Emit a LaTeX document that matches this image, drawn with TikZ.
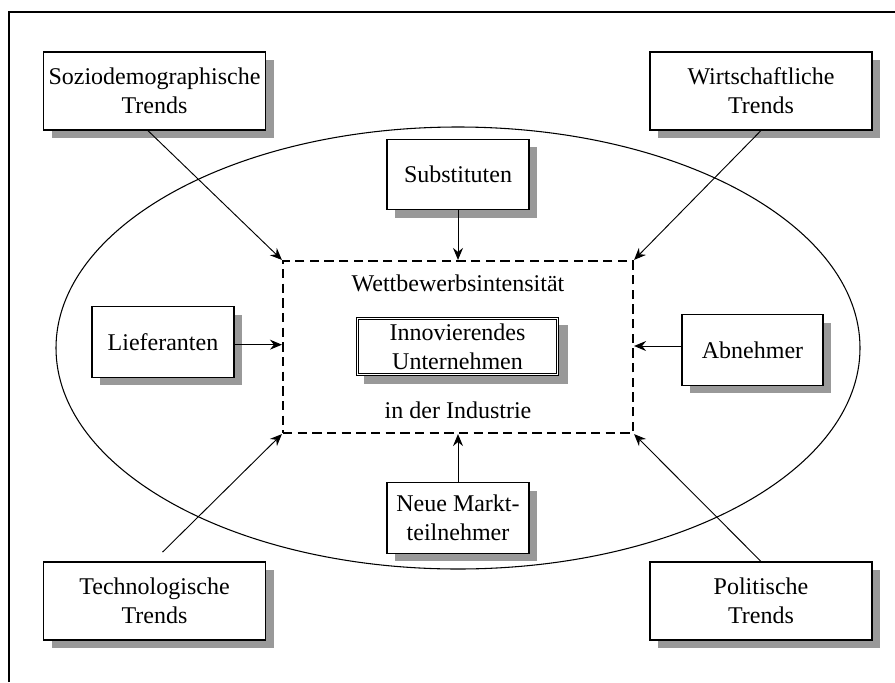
\documentclass[tikz,border=0pt]{standalone}
\usepackage{fontspec}
\setmainfont{Liberation Serif}
\usetikzlibrary{shadows,arrows.meta}
\definecolor{shade}{HTML}{999999}
\begin{document}
\begin{tikzpicture}[x=0.75pt,y=-0.75pt,
  every node/.style={font=\fontsize{18}{21.6}\selectfont, align=center, inner sep=0pt},
  factor/.style={draw=black, line width=0.8pt, fill=white,
    drop shadow={shadow xshift=6pt, shadow yshift=-6pt, fill=shade, opacity=1}},
  trendbox/.style={factor, minimum width=166.5pt, minimum height=58.5pt},
  forcebox/.style={factor, minimum width=106.5pt, minimum height=53pt},
  link/.style={line width=0.7pt, -{Stealth[length=9pt,width=7.5pt,inset=3pt]}}
]
\useasboundingbox (0,0) rectangle (895,682);

% frame
\draw[line width=0.8pt] (9,682) -- (9,12) -- (895,12);

% market ellipse
\draw[line width=0.8pt] (458,348) ellipse [x radius=402, y radius=221];

% industry (dashed) and the company in its centre
\node[draw=black, dashed, line width=1.6pt, dash pattern=on 7pt off 4pt,
      minimum width=262.5pt, minimum height=129pt] (ind) at (458,347) {};
\node at (458,283) {Wettbewerbsintensität};
\node at (458,410) {in der Industrie};
\node[factor, line width=0.7pt,
      drop shadow={shadow xshift=6.5pt, shadow yshift=-6pt, fill=shade, opacity=1},
      minimum width=152pt, minimum height=44pt] (firm) at (457.5,346.5)
      {Innovierendes\\Unternehmen};
\draw[line width=0.7pt] ([xshift=2.2pt,yshift=-2.2pt]firm.north west)
      rectangle ([xshift=-2.2pt,yshift=2.2pt]firm.south east);

% five forces
\node[forcebox] (sub)  at (458,174.5) {Substituten};
\node[forcebox] (neu)  at (458,518)   {Neue Markt-\\teilnehmer};
\node[forcebox] (lief) at (163,342)   {Lieferanten};
\node[forcebox, minimum width=105.75pt] (abn) at (752.5,350) {Abnehmer};

% macro trends
\node[trendbox] (soz)  at (154.5,91)  {Soziodemographische\\Trends};
\node[trendbox] (wirt) at (761,91)    {Wirtschaftliche\\Trends};
\node[trendbox] (tech) at (154.5,601) {Technologische\\Trends};
\node[trendbox] (pol)  at (761,601)   {Politische\\Trends};

% connectors
\draw[link] (sub.south) -- (ind.north);
\draw[link] (neu.north) -- (ind.south);
\draw[link] ([yshift=-2pt]lief.east) -- ([yshift=-2pt]lief.east -| ind.west);
\draw[link] ([yshift=3pt]abn.west) -- ([yshift=3pt]abn.west -| ind.east);
\draw[link] ([xshift=-5pt]soz.south) -- (ind.north west);
\draw[link] (wirt.south) -- (ind.north east);
\draw[link] ([xshift=6pt,yshift=7pt]tech.north) -- (ind.south west);
\draw[link] (pol.north) -- (ind.south east);
\end{tikzpicture}
\end{document}
